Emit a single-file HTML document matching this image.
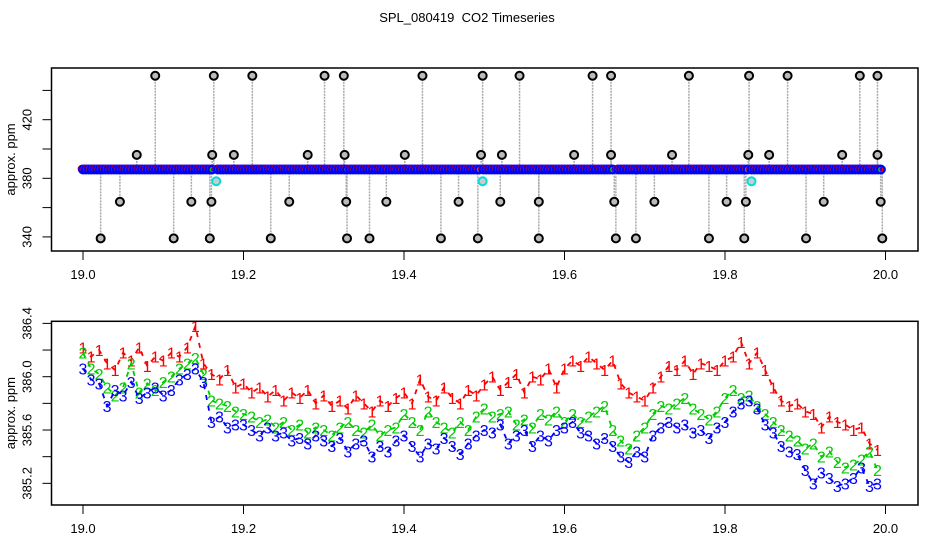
<!DOCTYPE html>
<html><head><meta charset="utf-8"><style>
body{margin:0;background:#fff;}
svg{display:block;font-family:"Liberation Sans",Arial,sans-serif;}
</style></head><body>
<svg id="c" width="936" height="540" xmlns="http://www.w3.org/2000/svg">
<text x="467" y="22" font-size="13" text-anchor="middle" style="white-space:pre">SPL_080419  CO2 Timeseries</text>
<g id="top"></g>
<g id="bot"></g>
</svg>
<script>
// ---- data ----
const xTicks = [19.0, 19.2, 19.4, 19.6, 19.8, 20.0];
const xTickLabels = ["19.0", "19.2", "19.4", "19.6", "19.8", "20.0"];
const topYTicks = [340, 360, 380, 400, 420, 440];
const topYLabels = ["340", "", "380", "", "420", ""];
const botYTicks = [385.2, 385.4, 385.6, 385.8, 386.0, 386.2, 386.4];
const botYLabels = ["385.2", "", "385.6", "", "386.0", "", "386.4"];
// dense band segments in top panel [start, end, value]
const bandStarts = [19.0, 19.168, 19.333, 19.499, 19.667, 19.833];
const bandEnds = [19.163, 19.33, 19.495, 19.663, 19.829, 19.995];
const bandLevel = 386;
// outliers (time, ppm)
const outT = [19.090,19.163,19.211,19.301,19.325,19.423,19.498,19.544,19.635,19.658,19.755,19.830,19.878,19.968,19.990,
 19.067,19.161,19.188,19.280,19.326,19.401,19.496,19.522,19.612,19.658,19.734,19.829,19.855,19.946,19.990,
 19.046,19.135,19.160,19.257,19.328,19.378,19.468,19.520,19.568,19.662,19.712,19.802,19.826,19.923,19.994,
 19.022,19.113,19.158,19.234,19.329,19.357,19.446,19.492,19.568,19.664,19.689,19.780,19.824,19.901,19.996];
const outV = [450,450,450,450,450,450,450,450,450,450,450,450,450,450,450,
 396,396,396,396,396,396,396,396,396,396,396,396,396,396,396,
 364,364,364,364,364,364,364,364,364,364,364,364,364,364,364,
 339,339,339,339,339,339,339,339,339,339,339,339,339,339,339];
const cyanT = [19.166, 19.498, 19.833];
const cyanV = [378, 378, 378];
// bottom panel series, t = 19.00 .. 19.99 step 0.01
const times = Array.from({length:100},(_,i)=>19+i/100);
const s1 = [386.22,386.15,386.20,386.10,386.05,386.18,386.12,386.22,386.08,386.15,
386.12,386.18,386.15,386.22,386.38,386.10,386.02,385.98,386.05,385.92,
385.95,385.88,385.92,385.85,385.90,385.82,385.88,385.84,385.90,385.80,
385.86,385.78,385.82,385.76,385.86,385.80,385.74,385.82,385.78,385.84,
385.88,385.80,385.98,385.85,385.82,385.92,385.84,385.80,385.90,385.86,
385.94,386.00,385.90,385.96,386.02,385.88,386.00,385.98,386.06,385.92,
386.06,386.12,386.08,386.15,386.10,386.05,386.12,385.95,385.88,385.85,
385.82,385.92,386.00,386.08,386.05,386.12,386.02,386.10,386.08,386.05,
386.12,386.15,386.26,386.10,386.18,386.05,385.92,385.82,385.78,385.80,
385.74,385.72,385.62,385.70,385.66,385.64,385.60,385.62,385.50,385.45];
const s2 = [386.18,386.06,386.02,385.92,385.86,385.92,386.10,385.88,385.95,385.90,
385.96,386.00,386.06,386.10,386.14,386.02,385.82,385.80,385.78,385.74,
385.72,385.70,385.66,385.68,385.62,385.66,385.60,385.64,385.58,385.62,
385.60,385.56,385.62,385.66,385.60,385.58,385.64,385.56,385.60,385.62,
385.72,385.66,385.60,385.74,385.66,385.62,385.58,385.66,385.60,385.70,
385.76,385.70,385.72,385.74,385.64,385.68,385.62,385.72,385.68,385.74,
385.66,385.72,385.66,385.70,385.74,385.78,385.60,385.52,385.46,385.56,
385.62,385.72,385.78,385.76,385.80,385.84,385.76,385.72,385.68,385.74,
385.84,385.90,385.84,385.86,385.78,385.72,385.66,385.60,385.56,385.52,
385.46,385.50,385.40,385.44,385.36,385.32,385.34,385.38,385.44,385.30];
const s3 = [386.06,385.98,385.95,385.78,385.90,385.86,385.96,385.84,385.88,385.92,
385.86,385.90,385.98,386.02,386.06,385.96,385.66,385.70,385.62,385.64,
385.64,385.60,385.56,385.62,385.56,385.58,385.52,385.54,385.50,385.56,
385.52,385.48,385.54,385.44,385.50,385.52,385.40,385.48,385.44,385.52,
385.56,385.48,385.40,385.50,385.46,385.54,385.48,385.42,385.50,385.56,
385.60,385.58,385.64,385.50,385.56,385.60,385.48,385.56,385.52,385.60,
385.62,385.66,385.58,385.56,385.50,385.54,385.48,385.40,385.36,385.44,
385.40,385.56,385.62,385.66,385.62,385.64,385.58,385.60,385.54,385.62,
385.66,385.74,385.80,385.82,385.76,385.64,385.58,385.48,385.44,385.42,
385.30,385.20,385.28,385.24,385.18,385.20,385.24,385.32,385.18,385.20];

const NS="http://www.w3.org/2000/svg";
function mk(tag, attrs, parent){const e=document.createElementNS(NS,tag);for(const k in attrs)e.setAttribute(k,attrs[k]);parent.appendChild(e);return e;}
const L=51.5, R=918;
const xs = t => 83 + (t-19)*802.5;
const yTop = v => 178.3 - (v-380)*1.465;
const yBot = v => 376.7 - (v-386)*133.3;

function axes(g, top, bot, yTicks, yLabels, yf, prefix){
  const box=mk('rect',{x:L,y:top,width:R-L,height:bot-top,fill:'none',stroke:'#000','stroke-width':1.5},g);
  
  
  xTicks.forEach((t,i)=>{
    const x=xs(t);
    const tk=mk('line',{x1:x,x2:x,y1:bot,y2:bot+9,stroke:'#000','stroke-width':1},g);
    
    
    const lb=mk('text',{x:x,y:bot+28,'font-size':13,'text-anchor':'middle'},g);
    lb.textContent=xTickLabels[i];
    
    
  });
  yTicks.forEach((v,i)=>{
    const y=yf(v);
    const tk=mk('line',{x1:L-9,x2:L,y1:y,y2:y,stroke:'#000','stroke-width':1},g);
    
    
    if(yLabels[i]){
      const lb=mk('text',{x:0,y:0,'font-size':13,'text-anchor':'middle',transform:`translate(${L-20},${y}) rotate(-90)`},g);
      lb.textContent=yLabels[i];
      
      
    }
  });
  const yl=mk('text',{x:0,y:0,'font-size':13,'text-anchor':'middle',transform:`translate(15,${(top+bot)/2}) rotate(-90)`},g);
  yl.textContent='approx. ppm';
  
  
}

// top panel
const gt=document.getElementById('top');
outT.forEach((t,i)=>{
  const x=xs(t);
  const ln=mk('line',{x1:x,x2:x,y1:yTop(outV[i]),y2:yTop(bandLevel),stroke:'#aaa','stroke-width':1.5,'stroke-dasharray':'2,1'},gt);
  
  
});
bandStarts.forEach((s,k)=>{
  const e=bandEnds[k];
  const colors=['#f00','#0c0','#00f'];
  const offs=[-1.2,1.2,0];
  let n=0;
  for(let t=s;t<=e;t+=0.0035){
    colors.forEach((c,j)=>{
      const cc=mk('circle',{cx:xs(t)+offs[j],cy:yTop(bandLevel)-(j==0?0.6:0),r:(j==2?3.8:3.4),fill:'none',stroke:c,'stroke-width':(j==2?2.4:1.6)},gt);
      
      
    });
    n++;
  }
});
outT.forEach((t,i)=>{
  const c=mk('circle',{cx:xs(t),cy:yTop(outV[i]),r:4,fill:'#bbb',stroke:'#000','stroke-width':2},gt);
  
  
});
cyanT.forEach((t,i)=>{
  const c=mk('circle',{cx:xs(t),cy:yTop(cyanV[i]),r:4,fill:'#ccc',stroke:'#0dd','stroke-width':2},gt);
  
  
});
axes(gt,68,251,topYTicks,topYLabels,yTop,'top');

// bottom panel
const gb=document.getElementById('bot');
[[s1,'#f00','1'],[s2,'#0c0','2'],[s3,'#00f','3']].forEach(([arr,col,ch])=>{
  const pts=arr.map((v,i)=>xs(times[i])+','+yBot(v)).join(' ');
  const pl=mk('polyline',{points:pts,fill:'none',stroke:col,'stroke-width':1.8,'stroke-dasharray':'5,6'},gb);
  
  
  arr.forEach((v,i)=>{
    const t=mk('text',{x:xs(times[i]),y:yBot(v)+6,'font-size':16,'text-anchor':'middle',fill:col},gb);
    t.textContent=ch;
    
    
  });
});
axes(gb,321.3,505,botYTicks,botYLabels,yBot,'bottom');
</script>
</body></html>
